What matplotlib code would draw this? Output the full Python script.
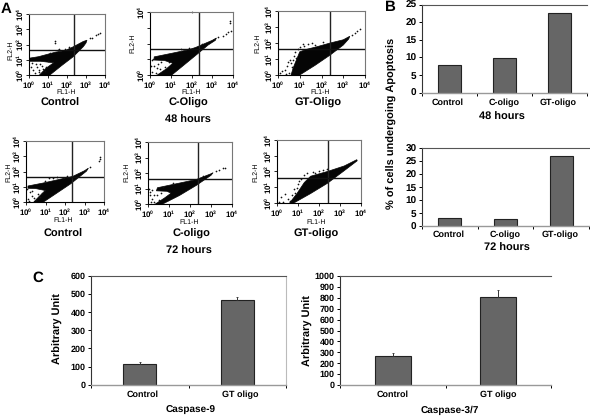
import numpy as np
import matplotlib
matplotlib.use("Agg")
import matplotlib.pyplot as plt

W, H = 590, 416
plt.rcParams['font.family'] = ['Liberation Sans', 'DejaVu Sans']
plt.rcParams['font.weight'] = 'bold'
plt.rcParams['text.hinting'] = 'no_hinting'
plt.rcParams['text.hinting_factor'] = 1
plt.rcParams['mathtext.fontset'] = 'custom'
plt.rcParams['mathtext.rm'] = 'Liberation Sans'
plt.rcParams['mathtext.default'] = 'rm'

# bar values
cats_b = ["Control", "C-oligo", "GT-oligo"]
apop_48 = [7.8, 9.9, 22.5]
apop_72 = [3.2, 2.8, 27.0]
cats_c = ["Control", "GT oligo"]
casp9 = [115, 470]
casp9_err = [8, 16]
casp37 = [265, 805]
casp37_err = [28, 70]

# flow cytometry panels, log10 values: cloud outline (x, y), sparse events (x, y), gates
cloud_a1 = [(0, .9), (0, 1.1), (.5, 1.2), (1.4, 1.5), (1.9, 1.6), (2.33, 1.85), (2.86, 2.2), (3.05, 2.28), (3, 2.1),
            (2.86, 1.86), (2.33, 1.2), (1.7, .6), (1.1, 0), (.55, 0), (.9, .45), (1.3, .8), (.6, .9)]
dots_a1 = [(.2, .3), (.4, .5), (.5, .2), (.7, .6), (.3, .1), (.9, .55), (.6, .7), (.15, .8), (.85, .25), (1, .95),
           (1.35, 2.2), (1.35, 2.1), (1.5, 1.65), (1.9, 1.72), (3.2, 2.4), (3.3, 2.45), (3.5, 2.6), (3.65, 2.7),
           (3.72, 2.78), (.1, .55), (.75, .4), (1.1, 1.42), (1.6, 1.68), (2.1, 1.85), (.35, .72), (.55, .35)]
gate_a1 = (2.35, 1.64)

cloud_a2 = [(.2, .95), (.2, 1.15), (1.2, 1.42), (1.9, 1.62), (2.2, 1.75), (3, 2.2), (3.2, 2.35), (3.15, 2.2), (2.8, 1.9),
            (2.3, 1.35), (1.7, .7), (1.05, 0), (.35, 0), (.8, .4), (1.1, .75), (.7, .92)]
dots_a2 = [(.1, .2), (.2, .6), (.4, .7), (.5, .4), (.1, .95), (.7, .5), (.3, .15), (.15, 1.0), (.9, .85),
           (3.3, 2.4), (3.5, 2.5), (3.65, 2.6), (3.75, 2.7), (3.85, 3.45), (3.85, 3.3), (3.9, 2.8), (1.9, 1.72),
           (2, 4.02), (.35, .45), (.05, .55), (.55, .8), (1.5, 1.62), (2.5, 1.95)]
gate_a2 = (2.38, 1.62)

cloud_a3 = [(.7, .45), (1, 1.45), (1.3, 1.6), (1.8, 1.77), (2.4, 2), (3, 2.2), (3.3, 2.42), (3.25, 2.25), (3, 1.87),
            (2.4, 1.25), (1.7, .6), (1, 0), (.6, 0)]
dots_a3 = [(.1, .1), (.3, .3), (.4, .55), (.5, .15), (.6, .75), (.55, .95), (.75, 1.2), (.8, 1.45), (.9, 1.6),
           (1, 1.75), (1.2, 1.8), (.45, .8), (.2, .25), (.65, .5), (1.4, 1.95), (1.7, 1.9), (.35, .05), (3.4, 2.5),
           (3.55, 2.62), (3.65, 2.72), (3.75, 2.88), (1.15, 1.95), (.85, 1.05), (.7, .95), (1.55, 2.0), (2.05, 2.05)]
gate_a3 = (2.4, 1.6)

cloud_b1 = [(.1, .9), (.1, 1.05), (.9, 1.25), (1.6, 1.45), (2.4, 1.68), (3, 2.05), (3.2, 2.22), (3.1, 2.02), (2.3, 1.2),
            (1.6, .6), (.9, 0), (.4, 0), (.7, .4), (1, .75), (.5, .88)]
dots_b1 = [(.1, .2), (.3, .4), (.5, .1), (.6, .5), (.2, .65), (.8, .6), (.15, .05), (1.2, 1.55), (1.6, 1.62),
           (1.9, 1.6), (3.8, 2.85), (3.75, 2.7), (3.8, 2.95), (.4, .25), (.7, .3), (.05, .85), (3.3, 2.3), (.95, 1.4),
           (1.4, 1.6), (2.1, 1.72), (.3, .7), (.9, .7)]
gate_b1 = (2.36, 1.62)

cloud_b2 = [(.4, .85), (.45, 1.05), (1.5, 1.35), (2.3, 1.58), (3, 1.95), (3.1, 2.02), (3, 1.85), (2.3, 1.2), (1.5, .55),
            (.7, 0), (.35, 0), (.8, .4), (1.1, .7), (.9, .82)]
dots_b2 = [(.1, .8), (.1, .55), (.2, .3), (.3, .15), (.05, .95), (.45, .55), (.3, .6), (.15, .1), (.5, .25),
           (3.25, 2.1), (3.4, 2.2), (3.55, 2.3), (3.65, 2.3), (2.6, 1.8), (.2, .9), (.7, 1.1), (1.2, 1.35), (.6, .7)]
gate_b2 = (2.38, 1.6)

cloud_b3 = [(.95, .6), (1.3, 1.3), (1.6, 1.7), (2.4, 2), (3.2, 2.35), (3.8, 2.75), (3.82, 2.68), (3.2, 2.05), (2.4, 1.25),
            (1.6, .6), (.8, 0), (.6, 0)]
dots_b3 = [(.2, .4), (.4, .6), (.5, .25), (.1, .05), (.7, .5), (.8, .9), (1, 1.2), (1.15, 1.55), (1.3, 1.75),
           (1.7, 1.95), (2, 2), (.3, .05), (1.8, 1.9), (2.2, 2.1), (2.4, 2.15), (.6, .1), (.95, .95), (1.45, 1.9),
           (1.05, 1.4), (.85, .65)]
gate_b3 = (2.41, 1.58)


def axes_px(fig, x0, x1, y0, y1):
    return fig.add_axes([x0 / W, 1 - y1 / H, (x1 - x0) / W, (y1 - y0) / H])


def label_px(fig, x, y, s, size=7, **kw):
    fig.text(x / W, 1 - y / H, s, fontsize=size, ha=kw.pop('ha', 'center'), va='center', **kw)


def flow_panel(fig, box, cloud, dots, gate, xlab, ylab, yshown=(0, 1, 2, 3, 4)):
    ax = axes_px(fig, *box)
    cx, cy = zip(*cloud)
    dx, dy = zip(*dots)
    ax.fill(10 ** np.array(cx), 10 ** np.array(cy), color='#050505', lw=0.5)
    ax.scatter(10 ** np.array(dx), 10 ** np.array(dy), s=1.5, c='#111111', lw=0, clip_on=False)
    ax.set_xscale('log')
    ax.set_yscale('log')
    ax.set_xlim(1, 1e4)
    ax.set_ylim(1, 1e4)
    ax.axvline(10 ** gate[0], color='#222222', lw=1)
    ax.axhline(10 ** gate[1], color='#111111', lw=1)
    ticks = [1, 10, 100, 1000, 10000]
    ax.set_xticks(ticks)
    ax.set_yticks(ticks)
    ax.set_xticklabels([f"$10^{i}$" for i in range(5)], fontsize=5.6, fontweight='normal')
    ax.set_yticklabels([f"$10^{i}$" if i in yshown else "" for i in range(5)], fontsize=5.6,
                       fontweight='normal', rotation=90, va='center')
    ax.tick_params(which='major', length=2.2, width=0.6, pad=0.5)
    ax.tick_params(which='minor', length=1.2, width=0.4)
    for side in ax.spines:
        ax.spines[side].set_linewidth(0.8)
    ax.spines['top'].set_color('#777777')
    ax.spines['right'].set_color('#777777')
    label_px(fig, xlab[0], xlab[1], "FL1-H", size=5, fontweight='normal')
    label_px(fig, ylab[0], ylab[1], "FL2-H", size=5, fontweight='normal', rotation=90)


def bar_panel(fig, box, cats, vals, ymax, step, bar_w, errs=None, right=False, tick_size=7):
    ax = axes_px(fig, *box)
    pos = np.arange(len(cats))
    ax.bar(pos, vals, width=bar_w, color='#666666', edgecolor='#222222', lw=0.8, zorder=2)
    if errs is not None:
        ax.errorbar(pos, vals, yerr=[[0] * len(errs), errs], fmt='none', ecolor='#333333', elinewidth=0.7,
                    capsize=1, capthick=0.6, zorder=3)
    ax.set_xlim(-0.5, len(cats) - 0.5)
    ax.set_ylim(0, ymax)
    ax.set_yticks(np.arange(0, ymax + 1, step))
    ax.set_xticks(np.arange(len(cats) + 1) - 0.5)
    ax.set_xticklabels([])
    ax.tick_params(axis='y', labelsize=tick_size, length=2.5, width=0.7, pad=1.5)
    ax.tick_params(axis='x', length=2.5, width=0.7)
    ax.spines['top'].set_color('#555555')
    ax.spines['top'].set_linewidth(0.8)
    ax.spines['left'].set_color('#333333')
    ax.spines['left'].set_linewidth(0.8)
    ax.spines['bottom'].set_color('#999999')
    ax.spines['bottom'].set_linewidth(1)
    ax.spines['right'].set_visible(right)
    if right:
        ax.spines['right'].set_color('#bbbbbb')
    return ax


fig = plt.figure(figsize=(W / 100, H / 100), dpi=100)

# A: flow plots
flow_panel(fig, (29, 105, 14, 75), cloud_a1, dots_a1, gate_a1, (66, 92), (11, 50))
flow_panel(fig, (150, 233, 12, 75), cloud_a2, dots_a2, gate_a2, (191, 92), (133, 43), yshown=(0, 4))
flow_panel(fig, (278, 365, 11, 75), cloud_a3, dots_a3, gate_a3, (320, 92), (258, 43))
flow_panel(fig, (26, 104, 141, 202), cloud_b1, dots_b1, gate_b1, (63, 220), (9, 172))
flow_panel(fig, (148, 232, 142, 204), cloud_b2, dots_b2, gate_b2, (189, 222), (127, 172))
flow_panel(fig, (277, 361, 140, 203), cloud_b3, dots_b3, gate_b3, (316, 222), (256, 172))

label_px(fig, 60, 103, "Control", size=8)
label_px(fig, 188, 103, "C-Oligo", size=8)
label_px(fig, 318, 103, "GT-Oligo", size=8)
label_px(fig, 188, 120, "48 hours", size=7.6)
label_px(fig, 63, 234, "Control", size=8)
label_px(fig, 191, 234, "C-oligo", size=8)
label_px(fig, 316, 234, "GT-oligo", size=8)
label_px(fig, 189, 251, "72 hours", size=7.6)

# B: apoptosis bars
bar_panel(fig, (422, 587, 4.5, 92.7), cats_b, apop_48, 25, 5, 0.41)
bar_panel(fig, (422, 589, 148.5, 226), cats_b, apop_72, 30, 5, 0.41)
for x, s in zip([448, 504, 558], cats_b):
    label_px(fig, x, 103, s, size=6.7)
for x, s in zip([449, 505, 560], cats_b):
    label_px(fig, x, 235, s, size=6.7)
label_px(fig, 502, 117, "48 hours", size=7.6)
label_px(fig, 507, 248, "72 hours", size=7.6)
label_px(fig, 392, 123, "% of cells undergoing Apoptosis", size=7.7, rotation=90)

# C: caspase bars
bar_panel(fig, (91, 286, 276, 384.7), cats_c, casp9, 600, 100, 0.335, errs=casp9_err, right=True, tick_size=6.5)
bar_panel(fig, (340, 551, 276, 385), cats_c, casp37, 1000, 100, 0.34, errs=casp37_err, tick_size=6.5)
label_px(fig, 142.5, 395, "Control", size=6.7)
label_px(fig, 240, 395, "GT oligo", size=6.7)
label_px(fig, 393, 395, "Control", size=6.7)
label_px(fig, 498, 395, "GT oligo", size=6.7)
label_px(fig, 191, 410, "Caspase-9", size=7.4)
label_px(fig, 450, 410, "Caspase-3/7", size=7.4)
label_px(fig, 58, 329, "Arbitrary Unit", size=7.7, rotation=90)
label_px(fig, 308, 331, "Arbitrary Unit", size=7.7, rotation=90)

# panel letters
label_px(fig, 6, 9, "A", size=11)
label_px(fig, 390, 7, "B", size=11)
label_px(fig, 38, 278, "C", size=11)

fig.savefig("out.png", dpi=100)
